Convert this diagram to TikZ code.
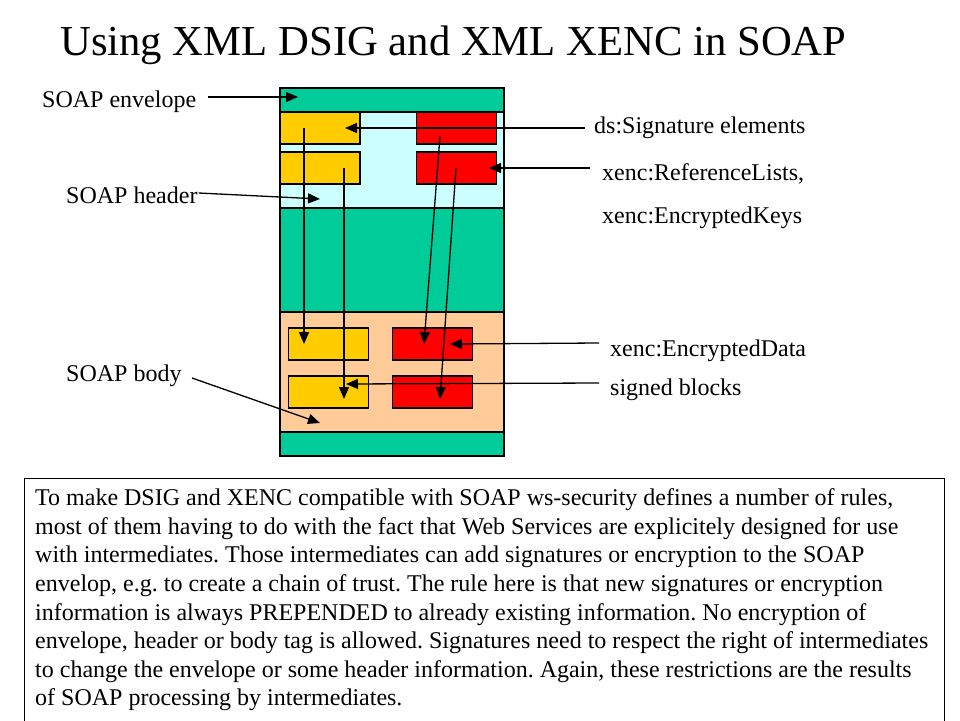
\documentclass[tikz,border=0pt]{standalone}
\usepackage{fontspec}
\setmainfont{Liberation Serif}
\usetikzlibrary{arrows.meta,positioning}

\begin{document}
\begin{tikzpicture}[x=1pt, y=-1pt,
    band/.style={draw, line width=1.2pt, minimum width=224pt, inner sep=0pt},
    blk/.style={draw, line width=1.2pt, minimum width=80pt, minimum height=32pt, inner sep=0pt},
    lbl/.style={anchor=base west, inner sep=0pt, font=\fontsize{24}{28}\selectfont},
    ptr/.style={-{Triangle[length=12pt, width=10pt]}, line width=1.3pt},
  ]
  % Colour definitions
  \definecolor{envgreen}{HTML}{00CC99}
  \definecolor{hdrcyan}{HTML}{CCFFFF}
  \definecolor{bodypeach}{HTML}{FFCC99}
  \definecolor{sigyellow}{HTML}{FFCC00}
  \definecolor{encred}{HTML}{FF0000}

  \useasboundingbox (0,0) rectangle (960,720);

  % Title
  \node[anchor=base west, inner sep=0pt, font=\fontsize{42.7}{48}\selectfont] (title) at (60,55)
    {Using XML DSIG and XML XENC in SOAP};

  % Envelope bands
  \node[band, fill=envgreen, minimum height=24pt] (envtop) at (392,100) {};
  \node[band, fill=hdrcyan, minimum height=96pt] (header) at (392,160) {};
  \node[band, fill=envgreen, minimum height=104pt] (envmid) at (392,260) {};
  \node[band, fill=bodypeach, minimum height=120pt] (body) at (392,372) {};
  \node[band, fill=envgreen, minimum height=24pt] (envbot) at (392,444) {};

  % Header blocks
  \node[blk, fill=sigyellow] (hsig1) at (320,128) {};
  \node[blk, fill=sigyellow] (hsig2) at (320,168) {};
  \node[blk, fill=encred] (hsig3) at (456.5,128) {};
  \node[blk, fill=encred] (hkey) at (456.5,168) {};

  % Body blocks
  \node[blk, fill=sigyellow] (bsig1) at (328.5,344) {};
  \node[blk, fill=sigyellow] (bsig2) at (328.5,392) {};
  \node[blk, fill=encred] (benc1) at (432.5,344) {};
  \node[blk, fill=encred] (benc2) at (432.5,392) {};

  % Labels
  \node[lbl] (envlbl) at (42,107) {SOAP envelope};
  \node[lbl] (hdrlbl) at (66,203) {SOAP header};
  \node[lbl] (bodylbl) at (66,381) {SOAP body};
  \node[lbl] (siglbl) at (594,133) {ds:Signature elements};
  \node[lbl] (reflbl) at (602,180) {xenc:ReferenceLists,};
  \node[lbl] (keylbl) at (602,223) {xenc:EncryptedKeys};
  \node[lbl] (datalbl) at (610,356) {xenc:EncryptedData};
  \node[lbl] (signlbl) at (610,395) {signed blocks};

  % Arrow end points
  \coordinate (envin) at (298,97);
  \coordinate (hdrin) at (320,199);
  \coordinate (bodyin) at (320,423);
  \coordinate (sigout) at (585,128);
  \coordinate (refout) at (590,168);
  \coordinate (dataout) at (599,343);
  \coordinate (signout) at (599,383);

  % Label arrows
  \draw[ptr] (208,97) -- (envin);
  \draw[ptr] (hdrlbl.base east) ++(1,-10) -- (hdrin);
  \draw[ptr] (192,378) -- (bodyin);
  \draw[ptr] (sigout) -- ([xshift=25pt]hsig1.center);
  \draw[ptr] (refout) -- ([xshift=32.5pt]hkey.center);
  \draw[ptr] (dataout) -- ([xshift=17.5pt]benc1.center);
  \draw[ptr] (signout) -- ([xshift=17.5pt]bsig1.center |- 0,384);

  % Header to body arrows
  \draw[ptr] ([xshift=-16pt]hsig1.center) -- ([xshift=-24.5pt]bsig1.center);
  \draw[ptr] ([xshift=24pt]hsig2.center) -- ([xshift=15.5pt, yshift=-7pt]bsig2.center);
  \draw[ptr] ([xshift=-16.5pt, yshift=-8pt]hsig3.center) -- ([xshift=-8.5pt]benc1.center);
  \draw[ptr] ([xshift=-0.5pt]hkey.center) -- ([xshift=7.5pt, yshift=-7pt]benc2.center);

  % Explanation box
  \node[draw, line width=1pt, anchor=north west, minimum width=920pt, minimum height=250pt,
    inner sep=0pt] (notebox) at (24,478) {};
  \node[anchor=north west, inner sep=0pt, align=left,
    font=\fontsize{24}{28.6}\selectfont\frenchspacing] (notetext) at (35,488.5)
    {To make DSIG and XENC compatible with SOAP ws-security defines a number of rules,\\
     most of them having to do with the fact that Web Services are explicitely designed for use\\
     with intermediates. Those intermediates can add signatures or encryption to the SOAP\\
     envelop, e.g. to create a chain of trust. The rule here is that new signatures or encryption\\
     information is always PREPENDED to already existing information. No encryption of\\
     envelope, header or body tag is allowed. Signatures need to respect the right of intermediates\\
     to change the envelope or some header information. Again, these restrictions are the results\\
     of SOAP processing by intermediates.};
\end{tikzpicture}
\end{document}
